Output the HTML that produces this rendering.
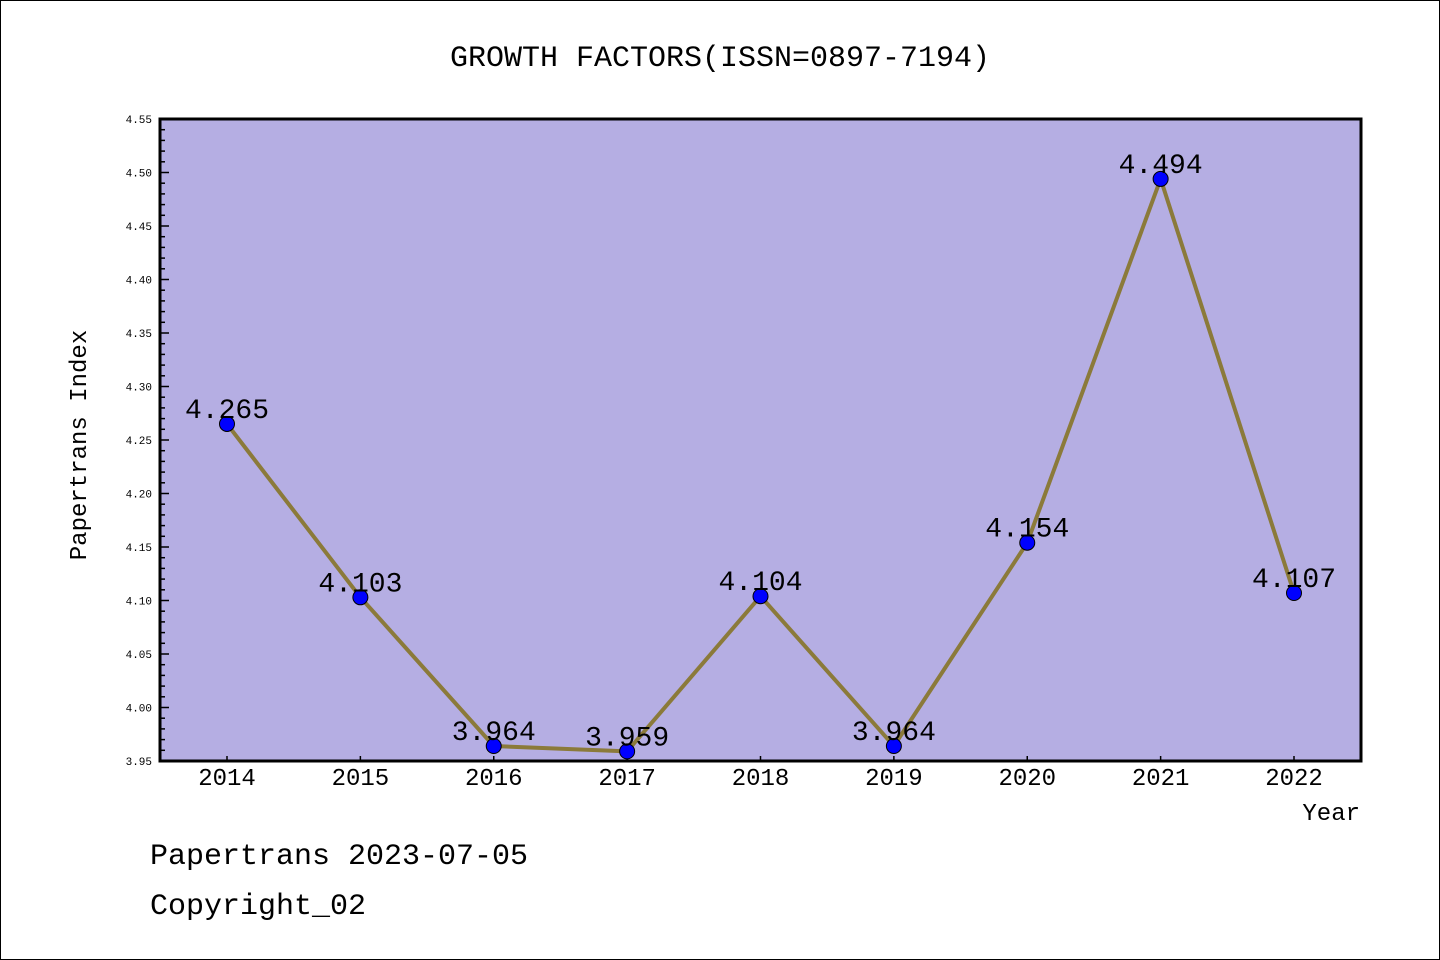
<!DOCTYPE html>
<html><head><meta charset="utf-8"><style>
html,body{margin:0;padding:0;background:#fff}
svg{display:block}
text{font-family:"Liberation Mono","DejaVu Sans Mono","Noto Sans CJK SC",monospace}
</style></head><body>
<svg width="1440" height="960" viewBox="0 0 1440 960">
<rect x="0.5" y="0.5" width="1439" height="959" fill="#fff" stroke="#000" stroke-width="1"/>
<text x="720" y="66" text-anchor="middle" font-size="30">GROWTH FACTORS(ISSN=0897-7194)</text>
<rect x="160" y="119" width="1201" height="642" fill="#b5aee3"/>
<g id="yaxis"></g>
<g id="xaxis"></g>
<g id="series"></g>
<rect x="160" y="119" width="1201" height="642" fill="none" stroke="#000" stroke-width="3"/>
<text x="86" y="445" text-anchor="middle" font-size="24" transform="rotate(-90 86 445)">Papertrans Index</text>
<text x="1360" y="820" text-anchor="end" font-size="24">Year</text>
<text x="150" y="864" font-size="30">Papertrans 2023-07-05</text>
<text x="150" y="914" font-size="30">Copyright_02</text>
</svg>
<script>
const years = ["2014","2015","2016","2017","2018","2019","2020","2021","2022"];
const values = [4.265,4.103,3.964,3.959,4.104,3.964,4.154,4.494,4.107];
const labels = ["4.265","4.103","3.964","3.959","4.104","3.964","4.154","4.494","4.107"];
const yTicks = ["3.95","4.00","4.05","4.10","4.15","4.20","4.25","4.30","4.35","4.40","4.45","4.50","4.55"];
const yMin = 3.95, yMax = 4.55;
const NS = "http://www.w3.org/2000/svg";
const X0 = 227, XSTEP = (1294-227)/8, PT = 119, PB = 761;
function xs(i){return X0 + i*XSTEP;}
function ys(v){return PB - (v - yMin)/(yMax - yMin)*(PB-PT);}
function mk(tag, attrs, parent){const e=document.createElementNS(NS,tag);for(const k in attrs)e.setAttribute(k,attrs[k]);parent.appendChild(e);return e;}
const ya=document.getElementById('yaxis'), xa=document.getElementById('xaxis'), sr=document.getElementById('series');
yTicks.forEach((t,i)=>{
  const v=parseFloat(t), y=ys(v);
  const l=mk('line',{x1:160,x2:169,y1:y,y2:y,stroke:'#000','stroke-width':1.5},ya);
  
  
  const tx=mk('text',{x:152,y:y+4,'text-anchor':'end','font-size':11,'font-family':'Liberation Sans, sans-serif'},ya);
  tx.textContent=t;
  
  
  if(i<yTicks.length-1){
    for(let k=1;k<5;k++){
      const ym=ys(v+k*0.01);
      const m=mk('line',{x1:160,x2:165,y1:ym,y2:ym,stroke:'#000','stroke-width':1.5},ya);
      
      
    }
  }
});
years.forEach((yr,i)=>{
  const x=xs(i);
  const l=mk('line',{x1:x,x2:x,y1:PB,y2:PB-5,stroke:'#000','stroke-width':1.5},xa);
  
  
  const tx=mk('text',{x:x,y:785,'text-anchor':'middle','font-size':24,'font-family':'Liberation Sans, sans-serif'},xa);
  tx.textContent=yr;
  
  
});
const pts=values.map((v,i)=>xs(i)+','+ys(v)).join(' ');
const pl=mk('polyline',{points:pts,fill:'none',stroke:'#8b7a3a','stroke-width':4,'stroke-linejoin':'round'},sr);


values.forEach((v,i)=>{
  const c=mk('circle',{cx:xs(i),cy:ys(v),r:7.5,fill:'#0000ff',stroke:'#000','stroke-width':1},sr);
  
  
  const t=mk('text',{x:xs(i),y:ys(v)-6,'text-anchor':'middle','font-size':28},sr);
  t.textContent=labels[i];
  
  
});
</script>
</body></html>
